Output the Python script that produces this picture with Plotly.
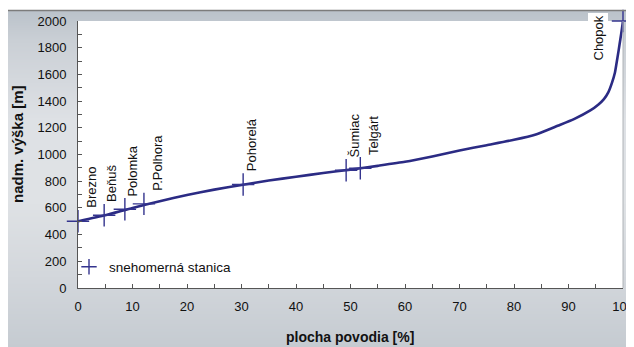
import base64, struct, zlib
import plotly.graph_objects as go

# ---------------- data ----------------
curve_area = [0, 5, 10, 15, 20, 25, 30, 35, 40, 45, 50, 55, 60, 65, 70, 75, 80,
              84, 88, 91, 94, 95.5, 96.5, 97.3, 98.0, 98.5, 98.8, 99.2, 99.5, 99.8, 100]
curve_elev = [500, 545, 600, 650, 697, 737, 772, 805, 833, 862, 887, 915, 945, 985,
              1030, 1070, 1110, 1150, 1215, 1265, 1330, 1375, 1415, 1465, 1540, 1610,
              1680, 1780, 1860, 1940, 2000]

station_names = ["Brezno", "Beňuš", "Polomka", "P.Polhora", "Pohorelá", "Šumiac", "Telgárt", "Chopok"]
station_area = [0, 4.8, 8.6, 12.1, 30.3, 49.2, 51.8, 100]
station_elev = [500, 545, 590, 630, 775, 882, 897, 2000]

x_title = "plocha povodia [%]"
y_title = "nadm. výška [m]"
legend_label = "snehomerná stanica"

# ---------------- styling ----------------
PAGE_W, PAGE_H = 634, 347
OFF = 8                      # default page body margin
W, H = PAGE_W - OFF, PAGE_H - OFF
L, R, T, B = 70, 11, 13, 59  # plot area: page x 78..623, page y 21..288
PW, PH = W - L - R, H - T - B
FONT = "Liberation Sans, Arial, sans-serif"
NAVY = "#2b2b84"
CROSS = "#34348e"

def px_to_paper_x(px):       # page pixel -> paper
    return (px - OFF - L) / PW

def px_to_paper_y(py):
    return (OFF + H - B - py) / PH

# label offsets (pixels) relative to station cross
label_dx = {"Brezno": 14, "P.Polhora": 14, "Telgárt": 13, "Chopok": -25}

# ---------------- gradient background image ----------------
stops = [(10, (186, 194, 202)), (40, (202, 207, 213)), (120, (222, 225, 229)),
         (200, (223, 226, 229)), (280, (210, 214, 219)), (347, (197, 203, 209))]

def color_at(py):
    for (y0, c0), (y1, c1) in zip(stops[:-1], stops[1:]):
        if y0 <= py <= y1:
            t = (py - y0) / (y1 - y0)
            return tuple(int(round(a + (b - a) * t)) for a, b in zip(c0, c1))
    return stops[-1][1]

top_px, left_px = 10, 7
gw, gh = 2, PAGE_H - top_px
raw = b""
for r in range(gh):
    c = color_at(top_px + r)
    raw += b"\x00" + bytes(c) * gw

def chunk(tag, data):
    return struct.pack(">I", len(data)) + tag + data + struct.pack(">I", zlib.crc32(tag + data) & 0xffffffff)

png = b"\x89PNG\r\n\x1a\n" + chunk(b"IHDR", struct.pack(">IIBBBBB", gw, gh, 8, 2, 0, 0, 0)) \
    + chunk(b"IDAT", zlib.compress(raw)) + chunk(b"IEND", b"")
src = "data:image/png;base64," + base64.b64encode(png).decode()

# ---------------- figure ----------------
fig = go.Figure()
fig.add_trace(go.Scatter(x=curve_area, y=curve_elev, mode="lines",
                         line=dict(color=NAVY, width=2.6, shape="spline", smoothing=0.5),
                         showlegend=False, hoverinfo="skip"))
fig.add_trace(go.Scatter(x=station_area, y=station_elev, mode="markers",
                         marker=dict(symbol="cross-thin", size=16,
                                     line=dict(color=CROSS, width=1.4)),
                         name=legend_label, cliponaxis=False, showlegend=False))
# legend entry (smaller symbol, as in the original key)
fig.add_trace(go.Scatter(x=[None], y=[None], mode="markers",
                         marker=dict(symbol="cross-thin", size=11,
                                     line=dict(color=CROSS, width=1.4)),
                         name=legend_label, showlegend=True))

annotations = []
for name, xa, ye in zip(station_names, station_area, station_elev):
    if name == "Chopok":
        annotations.append(dict(x=xa, y=ye, xref="x", yref="y", text=name, textangle=-90,
                                showarrow=False, xanchor="center", yanchor="top",
                                xshift=label_dx.get(name, 8), yshift=8,
                                bgcolor="white", borderpad=2,
                                font=dict(family=FONT, size=13, color="#111")))
    else:
        annotations.append(dict(x=xa, y=ye, xref="x", yref="y", text=name, textangle=-90,
                                showarrow=False, xanchor="center", yanchor="bottom",
                                xshift=label_dx.get(name, 8), yshift=11,
                                font=dict(family=FONT, size=13, color="#111")))

annotations.append(dict(x=px_to_paper_x(17), y=px_to_paper_y(144), xref="paper", yref="paper",
                        text="<b>" + y_title + "</b>", textangle=-90, showarrow=False,
                        xanchor="center", yanchor="middle",
                        font=dict(family=FONT, size=15, color="#111")))
annotations.append(dict(x=px_to_paper_x(350), y=px_to_paper_y(337), xref="paper", yref="paper",
                        text="<b>" + x_title + "</b>", showarrow=False,
                        xanchor="center", yanchor="middle",
                        font=dict(family=FONT, size=14, color="#111")))

shapes = [
    dict(type="rect", xref="x domain", yref="y domain", x0=0, x1=1, y0=0, y1=1,
         fillcolor="white", line=dict(width=0), layer="below"),
    dict(type="line", xref="paper", yref="paper",
         x0=px_to_paper_x(left_px), x1=px_to_paper_x(PAGE_W), y0=px_to_paper_y(10.5), y1=px_to_paper_y(10.5),
         line=dict(color="#7c7c7c", width=1.5)),
    dict(type="line", xref="x domain", yref="y domain", x0=1, x1=1, y0=0, y1=1,
         line=dict(color="#b0b4b8", width=1)),
]

fig.update_layout(
    width=W, height=H,
    margin=dict(l=L, r=R, t=T, b=B, autoexpand=False),
    paper_bgcolor="white", plot_bgcolor="white",
    font=dict(family=FONT, size=13, color="#111"),
    images=[dict(source=src, xref="paper", yref="paper",
                 x=px_to_paper_x(left_px), y=px_to_paper_y(top_px),
                 sizex=(PAGE_W - left_px) / PW, sizey=(PAGE_H - top_px) / PH,
                 sizing="stretch", xanchor="left", yanchor="top", layer="below")],
    shapes=shapes,
    annotations=annotations,
    showlegend=True,
    legend=dict(x=px_to_paper_x(69), y=px_to_paper_y(267), xanchor="left", yanchor="middle",
                bgcolor="rgba(0,0,0,0)", font=dict(family=FONT, size=13.5, color="#111"),
                itemwidth=30),
    xaxis=dict(range=[0, 100], dtick=10, tick0=0, ticks="inside", ticklen=4, tickcolor="#555",
               showgrid=False, zeroline=False, showline=True, linecolor="#555", linewidth=1,
               automargin=False,
               tickfont=dict(family=FONT, size=13, color="#111"), ticklabelstandoff=6,
               minor=dict(dtick=5, ticks="inside", ticklen=4, tickcolor="#555")),
    yaxis=dict(range=[0, 2000], dtick=200, tick0=0, ticks="inside", ticklen=4, tickcolor="#555",
               showgrid=False, zeroline=False, showline=True, linecolor="#555", linewidth=1,
               automargin=False,
               tickfont=dict(family=FONT, size=13, color="#111"), ticklabelstandoff=8,
               minor=dict(dtick=100, ticks="inside", ticklen=4, tickcolor="#555")),
)

fig.write_html("out.html")
